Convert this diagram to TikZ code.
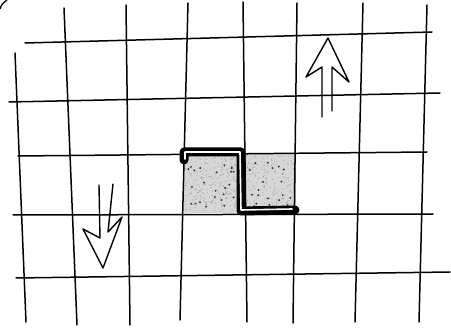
\documentclass[tikz,border=0pt]{standalone}
\begin{document}
\begin{tikzpicture}[x=1pt,y=-1pt,
  gridline/.style={line width=1.5pt,line cap=round,black},
  arrowline/.style={line width=1.4pt,line join=round,line cap=round},
  boundaryouter/.style={line width=9pt,black,line join=round,line cap=round},
  boundaryinner/.style={line width=1.6pt,white,line join=round,line cap=round},
]
\useasboundingbox (0,0) rectangle (451,329);
% shaded cells
\fill[black!16] (184,156) rectangle (242,213);
\fill[black!16] (246,154) rectangle (296,210);
\pgfmathsetseed{7}
\foreach \i in {1,...,45}{
  \pgfmathsetmacro{\px}{188+rnd*104}
  \pgfmathsetmacro{\py}{160+rnd*48}
  \fill[black!80] (\px,\py) circle (1.1);
}
\foreach \i in {1,...,500}{
  \pgfmathsetmacro{\px}{185+rnd*110}
  \pgfmathsetmacro{\py}{156+rnd*55}
  \fill[black!40] (\px,\py) circle (0.5);
}
% vertical grid lines
\draw[gridline] (15,53) -- (26,322);
\draw[gridline] (64,8) -- (77,325);
\draw[gridline] (126,5) -- (130,325);
\draw[gridline] (188,3) -- (180,320);
\draw[gridline] (243,2) -- (247,322);
\draw[gridline] (297,3) -- (293,323);
\draw[gridline] (363,3) -- (355,322);
\draw[gridline] (427,5) -- (419,322);
% horizontal grid lines
\draw[gridline] (25,43) -- (432,32);
\draw[gridline] (9,102) -- (440,93);
\draw[gridline] (18,156) -- (427,152);
\draw[gridline] (13,215) -- (433,214);
\draw[gridline] (16,278) -- (450,272);
% thick double boundary
\draw[boundaryouter] (184,160) -- (184,152) -- (241,152) -- (241,211) -- (295,210);
\draw[boundaryinner] (185,159) -- (185,152) -- (240,152) -- (241,210) -- (292,209);
% up arrow
\draw[arrowline] (322,117) -- (322,67) -- (306,77) -- (328,38) -- (349,82) -- (332,67) -- (332,111);
% down arrow
\draw[arrowline] (99,185) -- (100,238) -- (83,229) -- (103,268) -- (122,217) -- (108,232) -- (113,184);
% corner mark
\draw[line width=1.3pt] (0,9) .. controls (2,4) .. (7,0);
\end{tikzpicture}
\end{document}
